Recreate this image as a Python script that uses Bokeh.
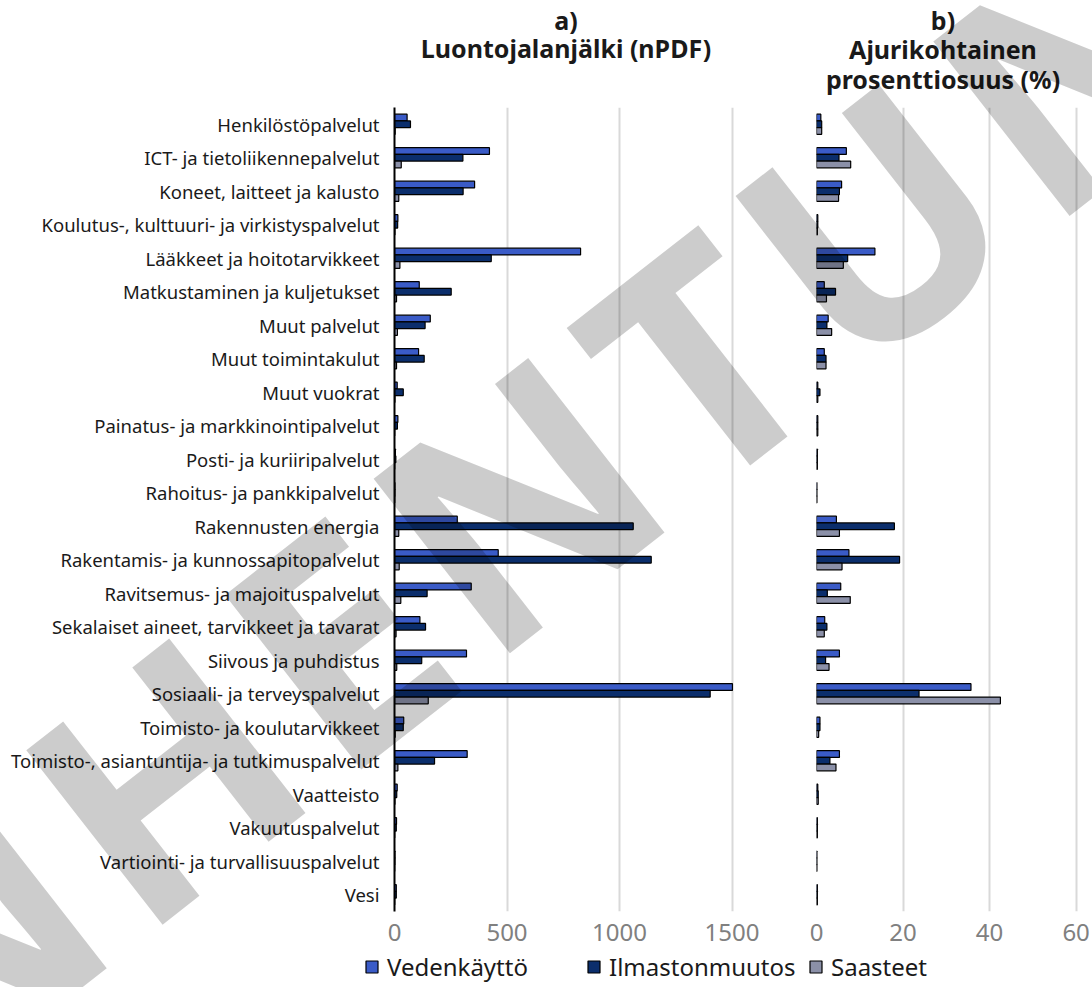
import math
from bokeh.plotting import figure
from bokeh.models import (FactorRange, Range1d, FixedTicker, Legend,
                          LegendItem, ColumnDataSource, Div)
from bokeh.layouts import column, row
from bokeh.transform import dodge
from bokeh.embed import file_html
from bokeh.resources import INLINE

categories = [
    "Henkilöstöpalvelut",
    "ICT- ja tietoliikennepalvelut",
    "Koneet, laitteet ja kalusto",
    "Koulutus-, kulttuuri- ja virkistyspalvelut",
    "Lääkkeet ja hoitotarvikkeet",
    "Matkustaminen ja kuljetukset",
    "Muut palvelut",
    "Muut toimintakulut",
    "Muut vuokrat",
    "Painatus- ja markkinointipalvelut",
    "Posti- ja kuriiripalvelut",
    "Rahoitus- ja pankkipalvelut",
    "Rakennusten energia",
    "Rakentamis- ja kunnossapitopalvelut",
    "Ravitsemus- ja majoituspalvelut",
    "Sekalaiset aineet, tarvikkeet ja tavarat",
    "Siivous ja puhdistus",
    "Sosiaali- ja terveyspalvelut",
    "Toimisto- ja koulutarvikkeet",
    "Toimisto-, asiantuntija- ja tutkimuspalvelut",
    "Vaatteisto",
    "Vakuutuspalvelut",
    "Vartiointi- ja turvallisuuspalvelut",
    "Vesi",
]
series = ["Vedenkäyttö", "Ilmastonmuutos", "Saasteet"]
colors = ["#3a5bc7", "#0b2e6c", "#8b90a8"]

# a) Luontojalanjälki (nPDF)
npdf_vedenkaytto = [56, 422, 356, 15, 827, 110, 159, 107, 12, 15, 4, 2,
                    279, 461, 341, 113, 320, 1502, 41, 323, 12, 9, 2, 8]
npdf_ilmasto = [71, 304, 305, 14, 430, 252, 136, 132, 39, 13, 6, 2,
                1061, 1141, 145, 138, 121, 1403, 39, 178, 10, 8, 2, 8]
npdf_saasteet = [3, 30, 19, 2, 24, 9, 13, 9, 2, 1, 1, 1,
                 19, 21, 28, 7, 10, 150, 3, 15, 2, 1, 1, 1]

# b) Ajurikohtainen prosenttiosuus (%)
pct_vedenkaytto = [1.0, 6.9, 5.8, 0.3, 13.5, 1.8, 2.7, 1.8, 0.3, 0.3, 0.2, 0.1,
                   4.6, 7.5, 5.6, 1.9, 5.3, 35.7, 0.8, 5.3, 0.3, 0.2, 0.1, 0.2]
pct_ilmasto = [1.2, 5.2, 5.3, 0.3, 7.2, 4.4, 2.4, 2.2, 0.8, 0.3, 0.2, 0.1,
               18.0, 19.2, 2.5, 2.4, 2.1, 23.7, 0.8, 3.1, 0.4, 0.2, 0.1, 0.2]
pct_saasteet = [1.2, 7.9, 5.1, 0.2, 6.2, 2.3, 3.5, 2.2, 0.3, 0.3, 0.2, 0.1,
                5.3, 5.9, 7.8, 1.8, 2.9, 42.5, 0.5, 4.5, 0.4, 0.2, 0.1, 0.2]

title_a = ["a)", "Luontojalanjälki (nPDF)"]
title_b = ["b)", "Ajurikohtainen", "prosenttiosuus (%)"]
ticks_a = [0, 500, 1000, 1500]
ticks_b = [0, 20, 40, 60]
watermark = "VANHENTUNUT"

FONT = "Noto Sans"
A_W, B_W, H, C_H = 794, 298, 948, 39
GRID = "#d9d9d9"
TICKC = "#808080"
TXT = "#1a1a1a"

src = ColumnDataSource(dict(cat=categories,
                            va=npdf_vedenkaytto, ia=npdf_ilmasto, sa=npdf_saasteet,
                            vb=pct_vedenkaytto, ib=pct_ilmasto, sb=pct_saasteet))

offsets = [0.2, 0.0, -0.2]


def style_x(p, ticks):
    p.xaxis.ticker = FixedTicker(ticks=ticks)
    p.xgrid.ticker = FixedTicker(ticks=ticks)
    p.xaxis.axis_line_color = None
    p.xaxis.major_tick_line_color = None
    p.xaxis.minor_tick_line_color = None
    p.xaxis.major_label_standoff = 6
    p.xaxis.major_label_text_font = FONT
    p.xaxis.major_label_text_font_size = "24px"
    p.xaxis.major_label_text_color = TICKC
    p.xgrid.grid_line_color = GRID
    p.xgrid.grid_line_width = 2
    p.ygrid.grid_line_color = None


yr = FactorRange(*reversed(categories))

# panel a: frame 394..738 px, 0.225 px per nPDF unit
pa = figure(width=A_W, height=H, y_range=yr, x_range=Range1d(0, 344 / 0.225),
            output_backend="svg", toolbar_location=None,
            min_border_left=394, min_border_right=56, min_border_top=107,
            min_border_bottom=37, outline_line_color=None)
style_x(pa, ticks_a)
pa.yaxis.axis_line_color = "black"
pa.yaxis.axis_line_width = 2
pa.yaxis.major_tick_line_color = None
pa.yaxis.minor_tick_line_color = None
pa.yaxis.major_label_standoff = 9
pa.yaxis.major_label_text_font = FONT
pa.yaxis.major_label_text_font_size = "18.5px"
pa.yaxis.major_label_text_color = TXT

# panel b: frame 816..1078 px
pb = figure(width=B_W, height=H, y_range=yr, x_range=Range1d(0, 262 / 4.327),
            output_backend="svg", toolbar_location=None,
            min_border_left=22, min_border_right=14, min_border_top=107,
            min_border_bottom=37, outline_line_color=None)
style_x(pb, ticks_b)
pb.yaxis.visible = False

for col, off, c in zip(["va", "ia", "sa"], offsets, colors):
    pa.hbar(y=dodge("cat", off, range=yr), left=0, right=col, height=0.2,
            source=src, fill_color=c, line_color="black", line_width=1.2)
for col, off, c in zip(["vb", "ib", "sb"], offsets, colors):
    pb.hbar(y=dodge("cat", off, range=yr), left=0, right=col, height=0.2,
            source=src, fill_color=c, line_color="black", line_width=1.2)

# legend figure
pc = figure(width=A_W + B_W, height=C_H, x_range=Range1d(0, 1), y_range=Range1d(0, 1),
            x_axis_type=None, y_axis_type=None, output_backend="svg",
            toolbar_location=None, min_border=0, outline_line_color=None)
pc.grid.visible = False
items = []
for s, c in zip(series, colors):
    r = pc.hbar(y=[-10], left=[-10], right=[-9], height=0.5, fill_color=c,
                line_color="black", line_width=1.2)
    items.append(LegendItem(label=s, renderers=[r]))
leg = Legend(items=items, orientation="horizontal", location=(364, 4),
             border_line_color=None, background_fill_alpha=0, padding=0, margin=0,
             spacing=5, glyph_width=15, glyph_height=15, label_standoff=8,
             label_width=194,
             label_text_font=FONT, label_text_font_size="24px", label_text_color=TXT)
pc.add_layout(leg)


# overlay: panel titles and the diagonal watermark (HTML text)
def title_div(lines, cx, top, lh):
    return ('<div style="position:absolute; left:%dpx; top:%.1fpx; transform:translateX(-50%%); '
            "font-family:'Noto Sans', sans-serif; font-weight:bold; font-size:25px; "
            'line-height:%.1fpx; text-align:center; white-space:nowrap; color:%s;">%s</div>'
            % (cx, top, lh, TXT, "<br>".join(lines)))


html = title_div(title_a, 566, 6.3, 28.0)
html += title_div(title_b, 943, 5.5, 29.5)
html += ('<div style="position:absolute; left:524px; top:490px; '
         'transform:translate(-50%,-50%) rotate(-38deg); transform-origin:50% 50%; '
         "font-family:'Noto Sans', sans-serif; font-weight:bold; font-size:310px; "
         'line-height:1; letter-spacing:15px; white-space:nowrap; '
         'color:rgba(0,0,0,0.2); pointer-events:none;">' + watermark + '</div>')

overlay = Div(text=html, width=A_W + B_W, height=0, margin=0,
              styles={"position": "relative", "z-index": "10", "overflow": "visible",
                      "pointer-events": "none"})

layout = column(overlay, row(pa, pb), pc)
open("out.html", "w").write(file_html(layout, INLINE))
